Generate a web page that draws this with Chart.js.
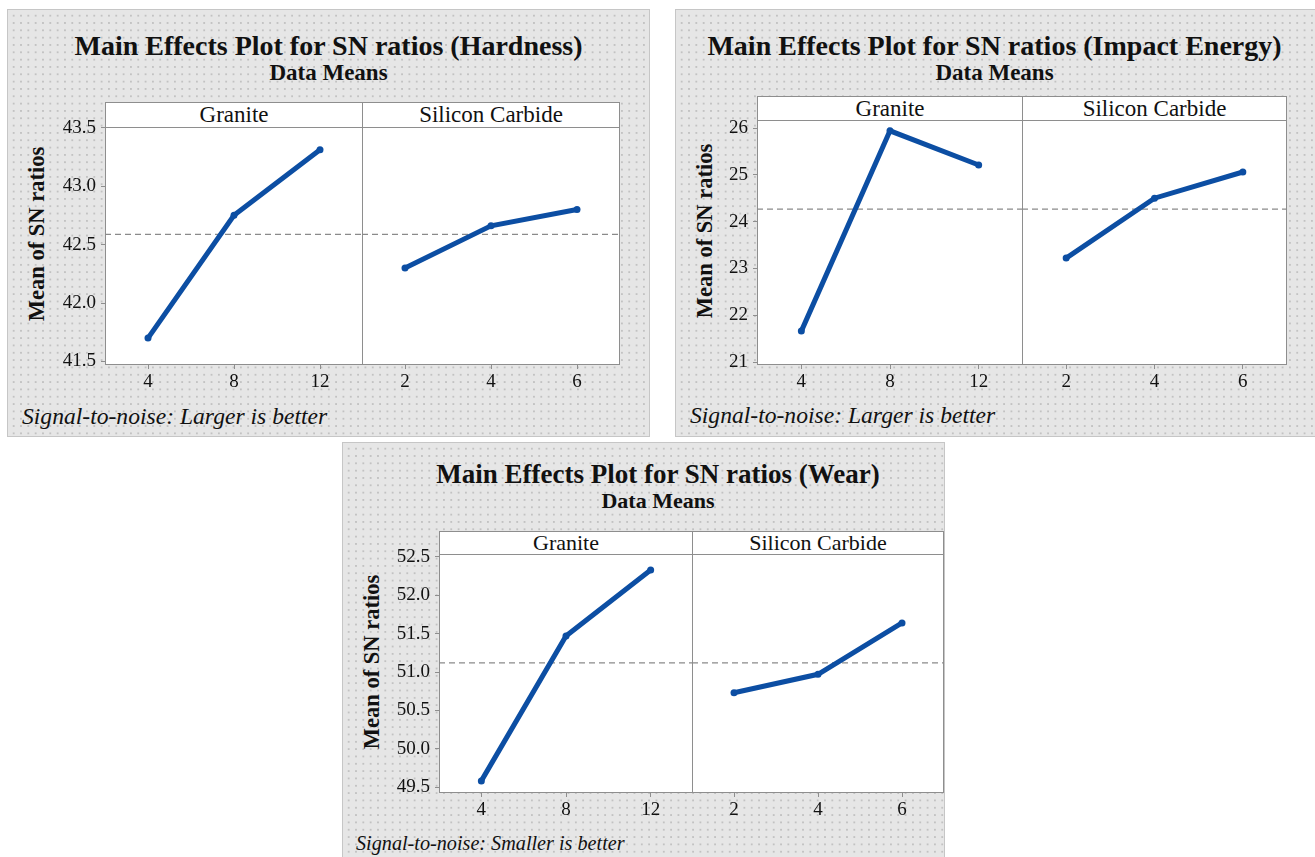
<!DOCTYPE html>
<html>
<head>
<meta charset="utf-8">
<script src="https://cdn.jsdelivr.net/npm/chart.js@4.4.0/dist/chart.umd.min.js"></script>
<style>
  body { margin: 0; width: 1315px; height: 857px; background: #fff; position: relative; overflow: hidden;
         font-family: "Liberation Serif", "Times New Roman", serif; color: #111; }
  .panel { position: absolute; box-sizing: border-box; border: 1px solid #c6c6c6; background-color: #e6e6e6;
           background-image: radial-gradient(circle, #b0b0b0 0.5px, transparent 0.95px);
           background-size: 7.33px 7.33px; background-position: 2px 2px; }
  .txt { position: absolute; white-space: nowrap; transform: translate(-50%, -50%); line-height: 1; }
  .title { font-weight: bold; }
  .ylab { font-weight: bold; transform: translate(-50%, -50%) rotate(-90deg); }
  .foot { position: absolute; white-space: nowrap; font-style: italic; transform: translateY(-50%); line-height: 1; }
  .strip { position: absolute; box-sizing: border-box; background: #fff; border: 1px solid #8e8e8e; border-bottom: none;
           display: flex; align-items: center; justify-content: center; font-family: "Liberation Serif", serif; }
  canvas { position: absolute; }
</style>
</head>
<body>
<script>
// factor levels
const granitePct = [4, 8, 12];
const sicPct = [2, 4, 6];

// mean SN ratios per level
const hardnessGranite = [41.70, 42.75, 43.31];
const hardnessSiC = [42.30, 42.66, 42.80];
const impactGranite = [21.66, 25.94, 25.21];
const impactSiC = [23.22, 24.50, 25.06];
const wearGranite = [49.58, 51.47, 52.33];
const wearSiC = [50.73, 50.97, 51.64];

// y tick labels
const hardnessTicks = [41.5, 42.0, 42.5, 43.0, 43.5];
const impactTicks = [21, 22, 23, 24, 25, 26];
const wearTicks = [49.5, 50.0, 50.5, 51.0, 51.5, 52.0, 52.5];

const factorNames = ['Granite', 'Silicon Carbide'];

const SERIF = '"Liberation Serif", "Times New Roman", serif';
Chart.defaults.font.family = SERIF;
Chart.defaults.color = '#111';

const LINE_BLUE = '#0c4ea3';
const TOP_PAD = 14;
const X_AXIS_H = 34;

const panels = [
  {
    title: 'Main Effects Plot for SN ratios (Hardness)', foot: 'Signal-to-noise: Larger is better',
    box: [7, 9, 650, 437], titleX: 328.5, titleY: 46, subY: 72, ylabX: 37, footX: 22, footY: 417,
    plotLeft: 105, divider: 362, plotRight: 620, stripTop: 102, stripBottom: 127, plotBottom: 365,
    yMin: 41.47, yMax: 43.505, yTicks: hardnessTicks, decimals: 1,
    left: hardnessGranite, right: hardnessSiC,
    titleSize: 28, subSize: 23, ylabSize: 22.5, footSize: 23.6, stripSize: 23, tickSize: 19
  },
  {
    title: 'Main Effects Plot for SN ratios (Impact Energy)', foot: 'Signal-to-noise: Larger is better',
    box: [675, 9, 1316, 437], titleX: 994.5, titleY: 46, subY: 72, ylabX: 705, footX: 690, footY: 416,
    plotLeft: 757, divider: 1022, plotRight: 1287, stripTop: 96, stripBottom: 120, plotBottom: 365,
    yMin: 20.936, yMax: 26.171, yTicks: impactTicks, decimals: 0,
    left: impactGranite, right: impactSiC,
    titleSize: 28, subSize: 23, ylabSize: 22.5, footSize: 23.6, stripSize: 23, tickSize: 19
  },
  {
    title: 'Main Effects Plot for SN ratios (Wear)', foot: 'Signal-to-noise: Smaller is better',
    box: [342, 442, 945, 860], titleX: 658, titleY: 474, subY: 501, ylabX: 372, footX: 356, footY: 843,
    plotLeft: 439, divider: 692, plotRight: 944, stripTop: 531, stripBottom: 554, plotBottom: 793,
    yMin: 49.422, yMax: 52.539, yTicks: wearTicks, decimals: 1,
    left: wearGranite, right: wearSiC,
    titleSize: 27, subSize: 22, ylabSize: 22.5, footSize: 20.2, stripSize: 22, tickSize: 19
  }
];

function addText(cls, text, x, y, size) {
  const d = document.createElement('div');
  d.className = cls;
  d.textContent = text;
  d.style.left = x + 'px';
  d.style.top = y + 'px';
  d.style.fontSize = size + 'px';
  document.body.appendChild(d);
  return d;
}

// white plot area and its frame
const framePlugin = {
  id: 'frame',
  beforeDraw(chart) {
    const { left, top, width, height } = chart.chartArea;
    const c = chart.ctx;
    c.save();
    c.fillStyle = '#fff';
    c.fillRect(left, top, width, height);
    c.restore();
  },
  beforeDatasetsDraw(chart) {
    const { left, top, right, bottom } = chart.chartArea;
    const c = chart.ctx;
    c.save();
    c.strokeStyle = '#8e8e8e';
    c.lineWidth = 1;
    c.strokeRect(Math.round(left) + 0.5, Math.round(top) + 0.5,
                 Math.round(right - left) - 1, Math.round(bottom - top) - 1);
    c.restore();
  }
};

function facetChart(p, levels, values, mean, showY, cx, cw) {
  const canvas = document.createElement('canvas');
  const ch = (p.plotBottom - p.stripBottom) + TOP_PAD + X_AXIS_H;
  canvas.width = cw;
  canvas.height = ch;
  canvas.style.left = cx + 'px';
  canvas.style.top = (p.stripBottom - TOP_PAD) + 'px';
  document.body.appendChild(canvas);

  const step = levels[1] - levels[0];
  const xMin = levels[0] - step / 2;
  const xMax = levels[levels.length - 1] + step / 2;
  const yAxisW = p.plotLeft - cx;
  const tickFont = { family: SERIF, size: p.tickSize };

  return new Chart(canvas, {
    type: 'line',
    data: {
      datasets: [
        {
          data: levels.map((x, i) => ({ x: x, y: values[i] })),
          borderColor: LINE_BLUE,
          backgroundColor: LINE_BLUE,
          borderWidth: 5,
          pointRadius: 3.5,
          pointBorderWidth: 0,
          tension: 0
        },
        {
          // overall mean reference line
          data: [{ x: xMin, y: mean }, { x: xMax, y: mean }],
          borderColor: '#8a8a8a',
          borderWidth: 1.2,
          borderDash: [6, 4],
          pointRadius: 0
        }
      ]
    },
    options: {
      responsive: false,
      animation: false,
      devicePixelRatio: 1,
      layout: { autoPadding: false, padding: { top: TOP_PAD, left: 0, right: 0, bottom: 0 } },
      plugins: { legend: { display: false }, tooltip: { enabled: false } },
      scales: {
        x: {
          type: 'linear',
          min: xMin,
          max: xMax,
          afterBuildTicks: s => { s.ticks = levels.map(v => ({ value: v })); },
          afterFit: s => { s.height = X_AXIS_H; s.paddingLeft = 0; s.paddingRight = 0; },
          border: { display: false },
          grid: { drawOnChartArea: false, drawTicks: true, tickLength: 4, color: '#8e8e8e' },
          ticks: { font: tickFont, padding: 2, color: '#111', maxRotation: 0 }
        },
        y: {
          display: showY,
          min: p.yMin,
          max: p.yMax,
          afterBuildTicks: s => { s.ticks = p.yTicks.map(v => ({ value: v })); },
          afterFit: s => { s.width = showY ? yAxisW : 0; s.paddingTop = 0; s.paddingBottom = 0; },
          border: { display: false },
          grid: { drawOnChartArea: false, drawTicks: true, tickLength: 4, color: '#8e8e8e' },
          ticks: {
            font: tickFont, padding: 5, color: '#111',
            callback: v => Number(v).toFixed(p.decimals)
          }
        }
      }
    },
    plugins: [framePlugin]
  });
}

panels.forEach(p => {
  const box = document.createElement('div');
  box.className = 'panel';
  box.style.left = p.box[0] + 'px';
  box.style.top = p.box[1] + 'px';
  box.style.width = (p.box[2] - p.box[0]) + 'px';
  box.style.height = (p.box[3] - p.box[1]) + 'px';
  document.body.appendChild(box);

  addText('txt title', p.title, p.titleX, p.titleY, p.titleSize);
  addText('txt title', 'Data Means', p.titleX, p.subY, p.subSize);
  addText('txt ylab', 'Mean of SN ratios', p.ylabX, (p.stripTop + p.plotBottom) / 2, p.ylabSize);
  addText('foot', p.foot, p.footX, p.footY, p.footSize);

  // facet header strips
  [[p.plotLeft, p.divider], [p.divider, p.plotRight]].forEach((r, i) => {
    const s = document.createElement('div');
    s.className = 'strip';
    s.textContent = factorNames[i];
    s.style.left = r[0] + 'px';
    s.style.top = p.stripTop + 'px';
    s.style.width = (r[1] - r[0] + (i === 0 ? 1 : 0)) + 'px';
    s.style.height = (p.stripBottom - p.stripTop) + 'px';
    s.style.fontSize = p.stripSize + 'px';
    document.body.appendChild(s);
  });

  const all = p.left.concat(p.right);
  const mean = all.reduce((a, b) => a + b, 0) / all.length;

  const cx = p.box[0] + 1;
  facetChart(p, granitePct, p.left, mean, true, cx, p.divider + 1 - cx);
  facetChart(p, sicPct, p.right, mean, false, p.divider, p.plotRight - p.divider);
});
</script>
</body>
</html>
